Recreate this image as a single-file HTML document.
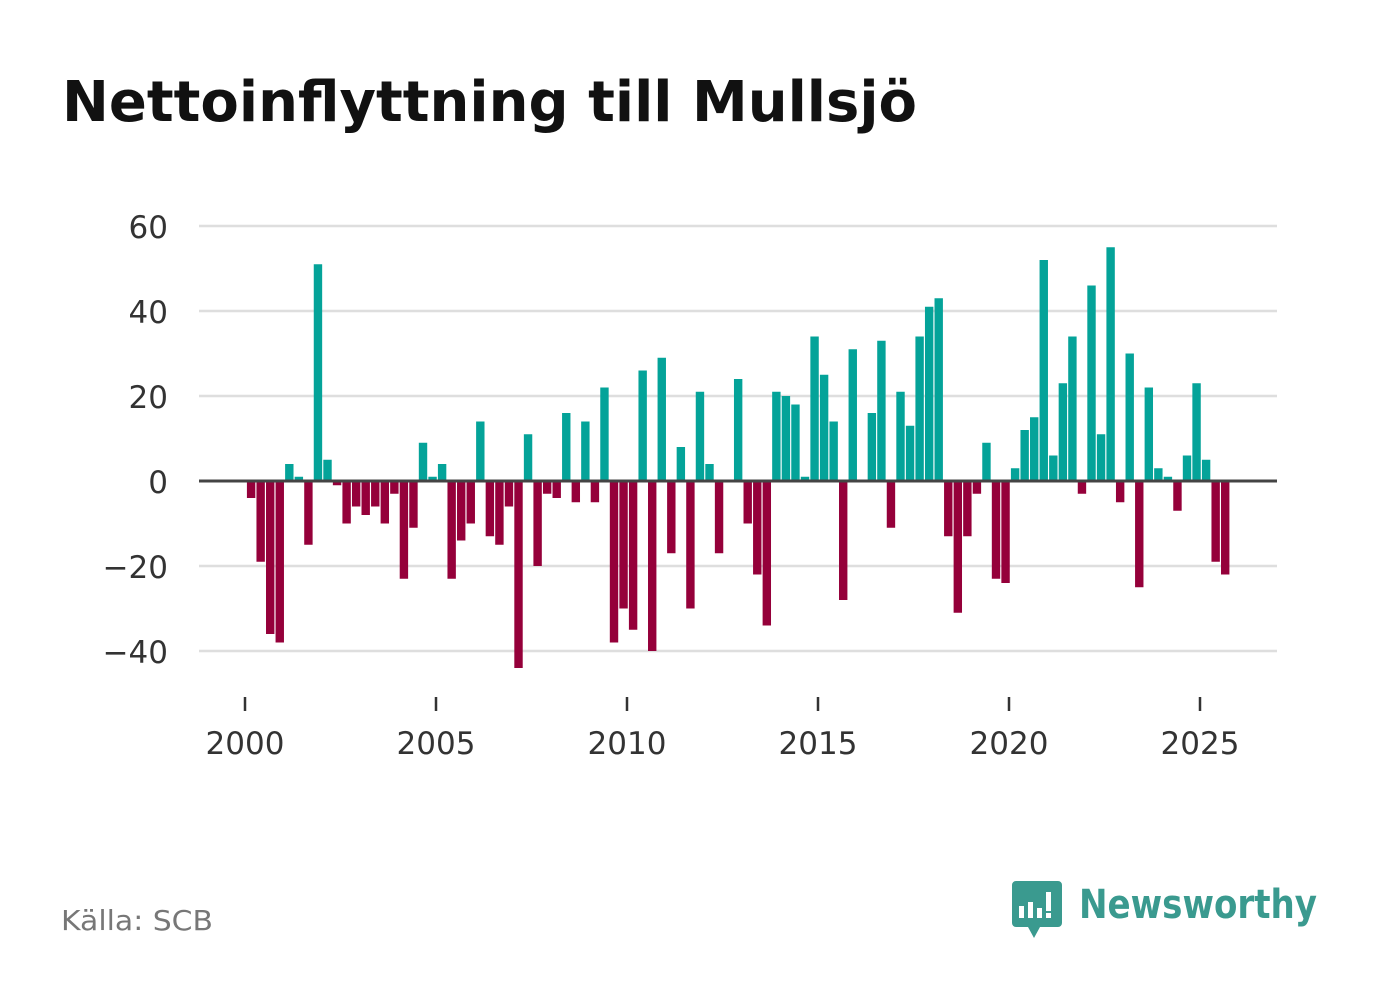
<!DOCTYPE html>
<html><head><meta charset="utf-8"><style>
html,body{margin:0;padding:0;background:#fff;}
svg{display:block;}
</style></head><body>
<svg id="chart" width="1382" height="999" viewBox="0 0 1382 999" xmlns="http://www.w3.org/2000/svg">
<text x="62" y="121" font-family="'DejaVu Sans','Liberation Sans',sans-serif" font-weight="bold" font-size="56" fill="#111" textLength="855" lengthAdjust="spacingAndGlyphs">Nettoinflyttning till Mullsjö</text>
<g id="grid"></g>
<g id="bars"></g>
<g id="axes"></g>
<text x="61" y="930" font-family="'DejaVu Sans','Liberation Sans',sans-serif" font-size="28" fill="#777" textLength="152" lengthAdjust="spacingAndGlyphs">Källa: SCB</text>
<g>
<path d="M1016 881 h42 a4 4 0 0 1 4 4 v38 a4 4 0 0 1 -4 4 h-18 l-6 11 l-6 -11 h-12 a4 4 0 0 1 -4 -4 v-38 a4 4 0 0 1 4 -4z" fill="#3a9a8f"/>
<rect x="1019" y="906" width="5" height="12" fill="#fff"/>
<rect x="1028" y="902" width="5" height="16" fill="#fff"/>
<rect x="1037" y="908" width="5" height="10" fill="#fff"/>
<rect x="1046" y="892" width="5" height="19" fill="#fff"/>
<rect x="1046" y="913" width="5" height="5" fill="#fff"/>
<text x="1079" y="918" font-family="'DejaVu Sans','Liberation Sans',sans-serif" font-weight="bold" font-size="40" fill="#3a9a8f" textLength="238" lengthAdjust="spacingAndGlyphs">Newsworthy</text>
</g>
</svg>
<script>
const values = [-4,-19,-36,-38,4,1,-15,51,5,-1,-10,-6,-8,-6,-10,-3,-23,-11,9,1,4,-23,-14,-10,14,-13,-15,-6,-44,11,-20,-3,-4,16,-5,14,-5,22,-38,-30,-35,26,-40,29,-17,8,-30,21,4,-17,0,24,-10,-22,-34,21,20,18,1,34,25,14,-28,31,0,16,33,-11,21,13,34,41,43,-13,-31,-13,-3,9,-23,-24,3,12,15,52,6,23,34,-3,46,11,55,-5,30,-25,22,3,1,-7,6,23,5,-19,-22];
const startYear = 2000;
const yTicks = [-40,-20,0,20,40,60];
const yTickLabels = ["\u221240","\u221220","0","20","40","60"];
const xTicks = [2000,2005,2010,2015,2020,2025];
const xTickLabels = ["2000","2005","2010","2015","2020","2025"];

const NS="http://www.w3.org/2000/svg";
const X0=199,X1=1277;
function xScale(t){return 245+(t-2000)*38.2;}
function yScale(v){return 481-v*4.25;}
function mk(tag,attrs,parent){const e=document.createElementNS(NS,tag);for(const k in attrs)e.setAttribute(k,attrs[k]);parent.appendChild(e);return e;}
const grid=document.getElementById('grid'),bars=document.getElementById('bars'),axes=document.getElementById('axes');
yTicks.forEach((v,i)=>{
  if(v!==0){const l=mk('line',{x1:X0,x2:X1,y1:yScale(v),y2:yScale(v),stroke:'#dedede','stroke-width':2.5},grid);
  
  }
  const t=mk('text',{x:168,y:yScale(v)+12,'text-anchor':'end','font-family':"'DejaVu Sans','Liberation Sans',sans-serif",'font-size':31,fill:'#333'},axes);
  t.textContent=yTickLabels[i];
  
  
});
values.forEach((v,i)=>{
  if(v===0)return;
  const cx=xScale(startYear+i/4+0.16);
  const y=v>0?yScale(v):yScale(0);
  const r=mk('rect',{x:cx-4.2,y:y,width:8.4,height:Math.abs(yScale(v)-yScale(0)),fill:v>0?'#04a399':'#95003a'},bars);
  
  
});
const zl=mk('line',{x1:X0,x2:X1,y1:yScale(0),y2:yScale(0),stroke:'#444','stroke-width':3},axes);


xTicks.forEach((yr,i)=>{
  const x=xScale(yr);
  const tk=mk('line',{x1:x,x2:x,y1:697,y2:711,stroke:'#333','stroke-width':2.5},axes);
  
  
  const t=mk('text',{x:x,y:754,'text-anchor':'middle','font-family':"'DejaVu Sans','Liberation Sans',sans-serif",'font-size':31,fill:'#333'},axes);
  t.textContent=xTickLabels[i];
  
  
});
</script>
</body></html>
